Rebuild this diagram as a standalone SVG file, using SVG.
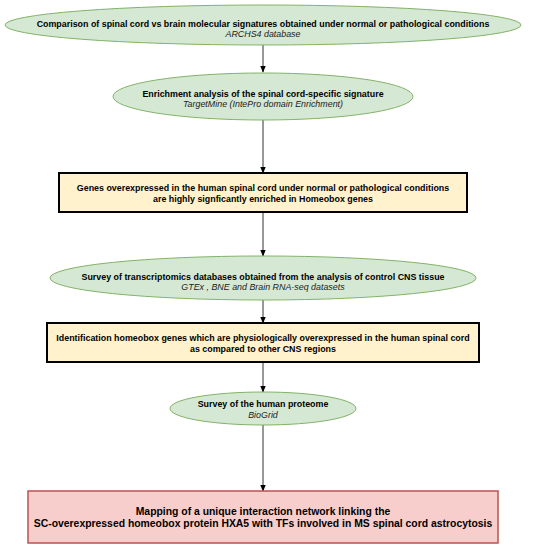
<svg xmlns="http://www.w3.org/2000/svg" width="533" height="550" viewBox="0 0 533 550">
<defs>
<style>
.ell{fill:#d5e8d4;stroke:#82b366;stroke-width:1}
.box{fill:#fff2cc;stroke:#000;stroke-width:2}
.red{fill:#f8cecc;stroke:#b85450;stroke-width:1.5}
text{font-family:"Liberation Sans",Arial,sans-serif;text-anchor:middle;fill:#000}
.b{font-weight:bold;font-size:8.9px}
.i{font-style:italic;font-size:8.9px;fill:#222}
.bl{font-weight:bold;font-size:10.4px}
.c{stroke:#333;stroke-width:1;fill:none;marker-end:url(#ah)}
</style>
<marker id="ah" viewBox="0 0 10 10" refX="9" refY="5" markerWidth="7" markerHeight="7" orient="auto" markerUnits="userSpaceOnUse">
<path d="M0,1 L10,5 L0,9 Z" fill="#000"/>
</marker>
</defs>
<rect width="533" height="550" fill="#fff"/>
<g id="connectors">
<line class="c" x1="263" y1="45" x2="263" y2="72"/>
<line class="c" x1="263" y1="120" x2="263" y2="173"/>
<line class="c" x1="263" y1="212" x2="263" y2="256"/>
<line class="c" x1="263" y1="300" x2="263" y2="323"/>
<line class="c" x1="263" y1="362" x2="263" y2="392"/>
<line class="c" x1="263" y1="425" x2="263" y2="491"/>
</g>
<g id="n1">
<ellipse class="ell" cx="263" cy="25" rx="258" ry="20"/>
<text class="b" x="263" y="27">Comparison of spinal cord vs brain molecular signatures obtained under normal or pathological conditions</text>
<text class="i" x="263" y="37">ARCHS4 database</text>
</g>
<g id="n2">
<ellipse class="ell" cx="263" cy="96.5" rx="150" ry="23.5"/>
<text class="b" x="263" y="97">Enrichment analysis of the spinal cord-specific signature</text>
<text class="i" x="263" y="107">TargetMine (IntePro domain Enrichment)</text>
</g>
<g id="n3">
<rect class="box" x="59" y="173" width="408" height="39"/>
<text class="b" x="263" y="191">Genes overexpressed in the human spinal cord under normal or pathological conditions</text>
<text class="b" x="263" y="202">are highly signficantly enriched in Homeobox genes</text>
</g>
<g id="n4">
<ellipse class="ell" cx="263" cy="278" rx="213" ry="22"/>
<text class="b" x="263" y="280">Survey of transcriptomics databases obtained from the analysis of control CNS tissue</text>
<text class="i" x="263" y="290">GTEx , BNE and Brain RNA-seq datasets</text>
</g>
<g id="n5">
<rect class="box" x="47" y="323" width="432" height="39"/>
<text class="b" x="263" y="341">Identification homeobox genes which are physiologically overexpressed in the human spinal cord</text>
<text class="b" x="263" y="352">as compared to other CNS regions</text>
</g>
<g id="n6">
<ellipse class="ell" cx="263" cy="408.5" rx="93" ry="16.5"/>
<text class="b" x="263" y="407">Survey of the human proteome</text>
<text class="i" x="263" y="418">BioGrid</text>
</g>
<g id="n7">
<rect class="red" x="28" y="491" width="470" height="52"/>
<text class="bl" x="263" y="515">Mapping of a unique interaction network linking the</text>
<text class="bl" x="263" y="527">SC-overexpressed homeobox protein HXA5 with TFs involved in MS spinal cord astrocytosis</text>
</g>
</svg>
